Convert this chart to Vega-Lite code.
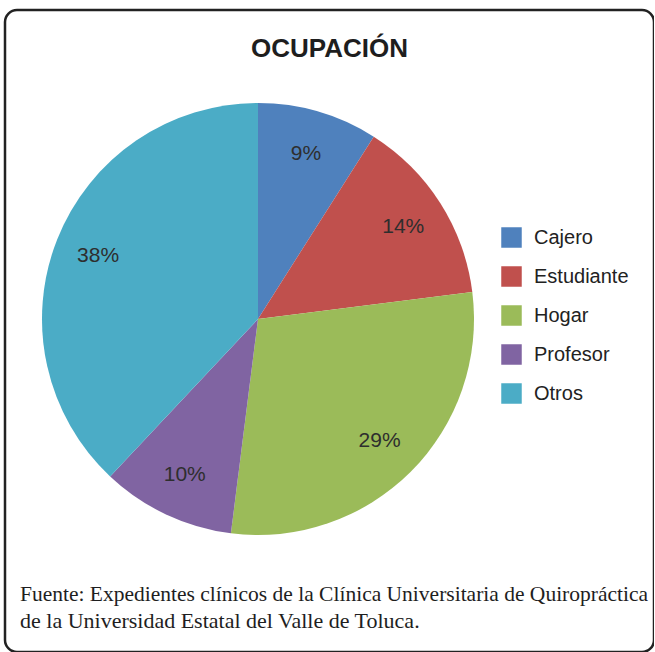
{
  "$schema": "https://vega.github.io/schema/vega-lite/v6.json",
  "width": 649,
  "height": 642,
  "padding": {"left": 5, "top": 10, "right": 0, "bottom": 0},
  "autosize": {"type": "none"},
  "background": "white",
  "view": {"stroke": "#222222", "strokeWidth": 2.5, "cornerRadius": 12, "fill": "white"},
  "title": {
    "text": "OCUPACIÓN",
    "font": "Liberation Sans",
    "fontSize": 26,
    "fontWeight": "bold",
    "color": "#1e1e1e",
    "anchor": "middle",
    "frame": "group",
    "offset": -73,
    "baseline": "alphabetic"
  },
  "config": {
    "view": {"stroke": "#222222", "strokeWidth": 2.5, "cornerRadius": 12},
    "legend": {
      "orient": "none",
      "legendX": 496,
      "legendY": 217,
      "padding": 0,
      "symbolType": "square",
      "symbolSize": 420,
      "symbolStrokeWidth": 0,
      "labelFont": "Liberation Sans",
      "labelFontSize": 20,
      "labelColor": "#222222",
      "labelOffset": 12,
      "rowPadding": 18,
      "labelLimit": 200
    }
  },
  "layer": [
    {
      "data": {
        "values": [
          {"ocupacion": "Cajero", "proporcion": 0.09, "orden": 1},
          {"ocupacion": "Estudiante", "proporcion": 0.14, "orden": 2},
          {"ocupacion": "Hogar", "proporcion": 0.29, "orden": 3},
          {"ocupacion": "Profesor", "proporcion": 0.10, "orden": 4},
          {"ocupacion": "Otros", "proporcion": 0.38, "orden": 5}
        ]
      },
      "encoding": {
        "theta": {"field": "proporcion", "type": "quantitative", "stack": true},
        "order": {"field": "orden", "type": "quantitative"}
      },
      "layer": [
        {
          "mark": {"type": "arc", "outerRadius": 216, "x": 253, "y": 309},
          "encoding": {
            "color": {
              "field": "ocupacion",
              "type": "nominal",
              "sort": ["Cajero", "Estudiante", "Hogar", "Profesor", "Otros"],
              "scale": {
                "domain": ["Cajero", "Estudiante", "Hogar", "Profesor", "Otros"],
                "range": ["#4F81BD", "#C0504D", "#9BBB59", "#8064A2", "#4BACC6"]
              },
              "legend": {"title": null}
            }
          }
        },
        {
          "mark": {"type": "text", "radius": 172, "x": 253, "y": 309, "font": "Liberation Sans", "fontSize": 21, "baseline": "middle", "align": "center"},
          "encoding": {
            "text": {"field": "proporcion", "type": "quantitative", "format": ".0%"},
            "color": {"value": "#2e2e2e"}
          }
        }
      ]
    },
    {
      "data": {"values": [{"linea": "Fuente: Expedientes clínicos de la Clínica Universitaria de Quiropráctica"}]},
      "mark": {"type": "text", "x": 15, "y": 591, "align": "left", "baseline": "alphabetic", "font": "Liberation Serif", "fontSize": 21.5, "color": "#1e1e1e"},
      "encoding": {"text": {"field": "linea"}}
    },
    {
      "data": {"values": [{"linea": "de la Universidad Estatal del Valle de Toluca."}]},
      "mark": {"type": "text", "x": 15, "y": 618, "align": "left", "baseline": "alphabetic", "font": "Liberation Serif", "fontSize": 22, "color": "#1e1e1e"},
      "encoding": {"text": {"field": "linea"}}
    }
  ]
}
